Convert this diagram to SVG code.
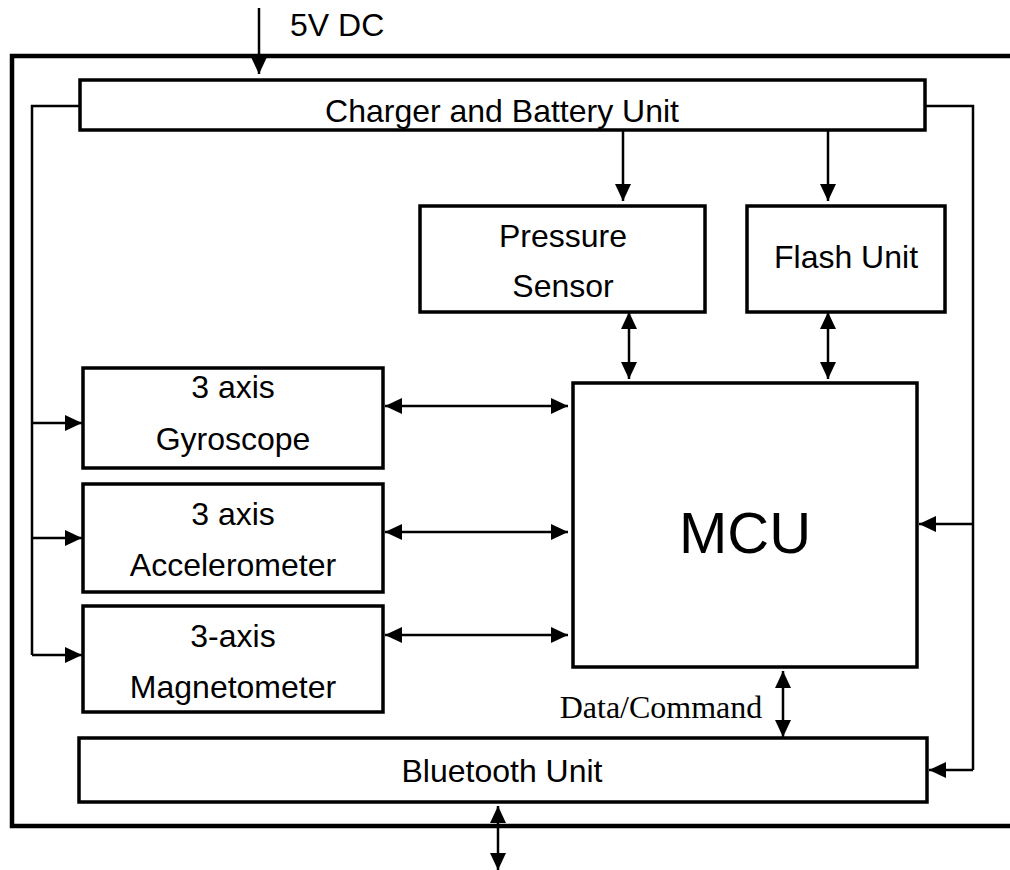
<svg xmlns="http://www.w3.org/2000/svg" width="1010" height="870" viewBox="0 0 1010 870">
<defs>
<style>
.box{fill:#fff;stroke:#000;stroke-width:3.5}
.outer{fill:none;stroke:#000;stroke-width:4.5}
.w{fill:none;stroke:#000;stroke-width:2.5}
.a{marker-end:url(#ah)}
.b{marker-start:url(#ah);marker-end:url(#ah)}
text{font-family:"Liberation Sans",Arial,sans-serif;font-size:32px;fill:#000;text-anchor:middle}
.serif{font-family:"Liberation Serif","Times New Roman",serif}
</style>
<marker id="ah" markerUnits="userSpaceOnUse" markerWidth="17" markerHeight="16" refX="17" refY="8" orient="auto-start-reverse" viewBox="0 0 17 16">
<path d="M0,0 L17,8 L0,16 z" fill="#000"/>
</marker>
</defs>
<rect class="outer" x="12" y="56" width="1020" height="770"/>
<g id="connectors">
<line class="w a" x1="259" y1="8" x2="259" y2="74"/>
<polyline class="w" points="80,106 32,106 32,655"/>
<line class="w a" x1="32" y1="423" x2="82" y2="423"/>
<line class="w a" x1="32" y1="538" x2="82" y2="538"/>
<line class="w a" x1="32" y1="655" x2="82" y2="655"/>
<polyline class="w" points="925,106 973,106 973,770"/>
<line class="w a" x1="973" y1="524" x2="919" y2="524"/>
<line class="w a" x1="973" y1="770" x2="929" y2="770"/>
<line class="w a" x1="623" y1="130" x2="623" y2="201"/>
<line class="w a" x1="828" y1="130" x2="828" y2="201"/>
<line class="w b" x1="629" y1="312" x2="629" y2="379"/>
<line class="w b" x1="828" y1="312" x2="828" y2="379"/>
<line class="w b" x1="385" y1="406" x2="568" y2="406"/>
<line class="w b" x1="385" y1="532" x2="568" y2="532"/>
<line class="w b" x1="385" y1="635" x2="568" y2="635"/>
<line class="w b" x1="783" y1="671" x2="783" y2="737"/>
<line class="w b" x1="498" y1="806" x2="498" y2="870"/>
<text x="290" y="36" style="text-anchor:start">5V DC</text>
<text class="serif" x="661" y="718">Data/Command</text>
</g>
<g id="charger"><rect class="box" x="80" y="80" width="845" height="50"/><text x="502" y="122">Charger and Battery Unit</text></g>
<g id="pressure"><rect class="box" x="420" y="206" width="285" height="106"/><text x="563" y="247">Pressure</text><text x="563" y="297">Sensor</text></g>
<g id="flash"><rect class="box" x="747" y="206" width="198" height="106"/><text x="846" y="268">Flash Unit</text></g>
<g id="gyro"><rect class="box" x="83" y="368" width="300" height="100"/><text x="233" y="398">3 axis</text><text x="233" y="450">Gyroscope</text></g>
<g id="accel"><rect class="box" x="83" y="484" width="300" height="108"/><text x="233" y="525">3 axis</text><text x="233" y="576">Accelerometer</text></g>
<g id="magnet"><rect class="box" x="83" y="606" width="300" height="106"/><text x="233" y="647">3-axis</text><text x="233" y="698">Magnetometer</text></g>
<g id="mcu"><rect class="box" x="573" y="383" width="344" height="284"/><text x="745" y="553" style="font-size:58px">MCU</text></g>
<g id="bluetooth"><rect class="box" x="79" y="738" width="848" height="64"/><text x="502" y="782">Bluetooth Unit</text></g>
</svg>
